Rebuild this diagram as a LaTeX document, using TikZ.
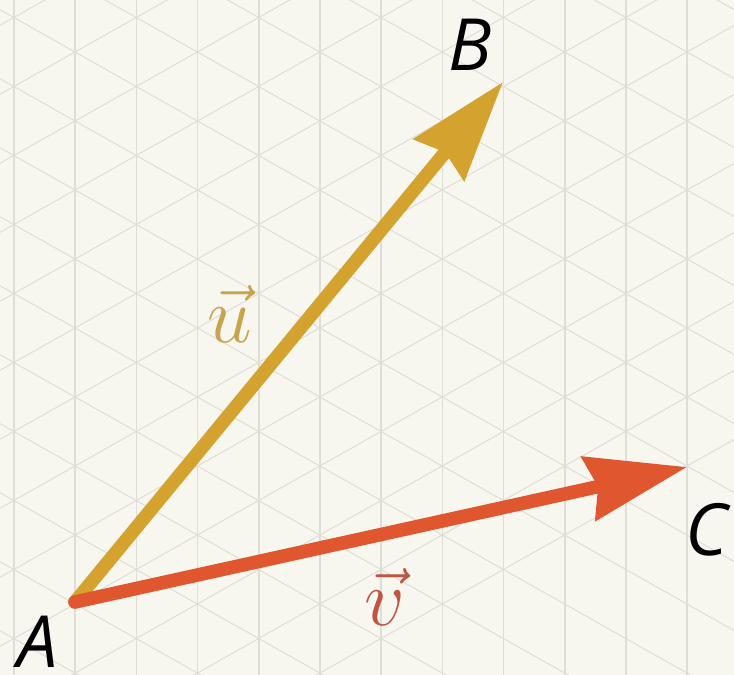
\RequirePackage{fix-cm}
\documentclass[tikz,border=0pt]{standalone}
\usepackage{fontspec}
\newfontfamily\labfont{Open Sans}
\usetikzlibrary{arrows.meta}
\definecolor{paper}{HTML}{F7F6EF}
\definecolor{gridc}{HTML}{DFDDD6}
\definecolor{ucol}{HTML}{D4A32F}
\definecolor{vcol}{HTML}{E0562F}
\definecolor{ulab}{HTML}{C9A24E}
\definecolor{vlab}{HTML}{BC5640}
\tikzset{
  vline/.style={draw=gridc, line width=1.6pt},
  dline/.style={draw=gridc, line width=1pt},
  vecarrow/.style={line width=13.5pt, line cap=round,
    -{Stealth[length=100pt, width=64pt, inset=9pt]}},
  ptlabel/.style={anchor=base, inner sep=0pt, font=\labfont\itshape\fontsize{72}{80}\selectfont},
  veclabel/.style={anchor=base, inner sep=0pt, font=\fontsize{80}{90}\selectfont}
}
\begin{document}
\begin{tikzpicture}[x=1pt,y=-1pt]
\useasboundingbox (0,0) rectangle (734,675);
\fill[paper] (0,0) rectangle (734,675);
\begin{scope}
\clip (0,0) rectangle (734,675);
\foreach \i in {0,...,12} {
  \draw[vline] ({14+61.2*\i},0) -- ({14+61.2*\i},675);
}
\foreach \k in {-8,...,11} {
  \draw[dline] (0,{9.7+69*\k}) -- (734,{9.7+69*\k+413.8});
  \draw[dline] (0,{94.3+69*\k}) -- (734,{94.3+69*\k-413.8});
}
\end{scope}
\coordinate (A) at (75,602);
\coordinate (B) at (503,82);
\coordinate (C) at (687,467);
\draw[vecarrow, draw=ucol, fill=ucol] (A) -- (B);
\draw[vecarrow, draw=vcol, fill=vcol] (A) -- (C);
\node[ptlabel] (lA) at (38,667) {A};
\node[ptlabel] (lB) at (470,70) {B};
\node[ptlabel] (lC) at (707,555) {C};
\node[veclabel, text=ulab] (lu) at (230,342) {$\vec{u}$};
\node[veclabel, text=vlab] (lv) at (385,625) {$\vec{v}$};
\end{tikzpicture}
\end{document}
